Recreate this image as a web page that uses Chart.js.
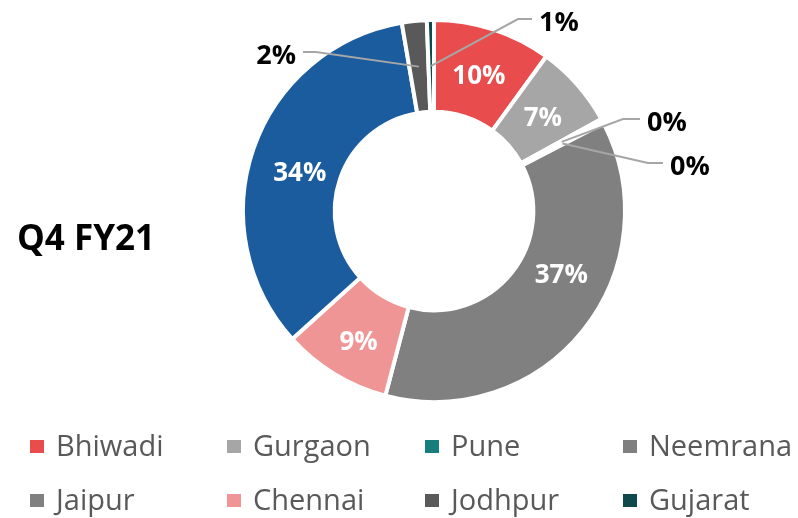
<!DOCTYPE html>
<html lang="en">
<head>
  <meta charset="UTF-8" />
  <title>Q4 FY21</title>
  <script src="https://cdn.jsdelivr.net/npm/chart.js"></script>
  <style>
    body { margin: 0; background: #fff; }
    canvas { display: block; }
  </style>
</head>
<body>
  <canvas id="pie" width="798" height="518"></canvas>

  <script>
    // plant names, in the order the slices run clockwise from 12 o'clock
    const plants = ["Bhiwadi", "Gurgaon", "Pune", "Neemrana", "Jaipur", "Chennai", "Others", "Jodhpur", "Gujarat"];
    const shares = [10, 7, 0.2, 0.2, 36.7, 9.2, 34, 2.1, 0.6];
    const colours = ["#E84C4C", "#A6A6A6", "#177E7E", "#7F7F7F", "#808080", "#EF9595", "#1B5C9E", "#595959", "#0E4A4A"];
    // the blue slice has no entry in the legend
    const legendPlants = ["Bhiwadi", "Gurgaon", "Pune", "Neemrana", "Jaipur", "Chennai", "Jodhpur", "Gujarat"];
    const title = "Q4 FY21";

    const total = shares.reduce((a, b) => a + b, 0);
    const pct = v => Math.round(v / total * 100) + "%";

    // small slices get their label outside, on a leader line (offsets from centre)
    const callouts = {
      2: { elbow: [189, -92], end: [206, -92], align: "left" },
      3: { elbow: [214, -48], end: [229, -48], align: "left" },
      7: { elbow: [-118, -159], end: [-131, -159], align: "right" },
      8: { elbow: [84, -192], end: [98, -192], align: "left" }
    };
    // small moves for labels that do not sit on the ring's middle
    const nudges = { 4: [14, -30], 5: [0, 4], 6: [3, 6] };

    const labelPlugin = {
      id: "sliceLabels",
      afterDatasetsDraw(chart) {
        const ctx = chart.ctx;
        const arcs = chart.getDatasetMeta(0).data;
        ctx.save();
        ctx.textBaseline = "middle";
        arcs.forEach((arc, i) => {
          const { x, y, startAngle, endAngle, innerRadius, outerRadius } = arc.getProps(["x", "y", "startAngle", "endAngle", "innerRadius", "outerRadius"], true);
          const mid = (startAngle + endAngle) / 2;
          const r = (innerRadius + outerRadius) / 2;
          const px = x + Math.cos(mid) * r;
          const py = y + Math.sin(mid) * r;
          const text = pct(shares[i]);
          const c = callouts[i];
          if (c) {
            ctx.strokeStyle = "#A6A6A6";
            ctx.lineWidth = 2;
            ctx.beginPath();
            ctx.moveTo(px, py);
            ctx.lineTo(x + c.elbow[0], y + c.elbow[1]);
            ctx.lineTo(x + c.end[0], y + c.end[1]);
            ctx.stroke();
            ctx.fillStyle = "#000";
            ctx.font = "bold 27px 'Open Sans'";
            ctx.textAlign = c.align;
            const gap = c.align === "left" ? 7 : -7;
            ctx.fillText(text, x + c.end[0] + gap, y + c.end[1] + 4);
          } else {
            const n = nudges[i] || [0, 0];
            ctx.fillStyle = "#fff";
            ctx.font = "bold 26px 'Open Sans'";
            ctx.textAlign = "center";
            ctx.fillText(text, px + n[0], py + n[1] + 4);
          }
        });
        ctx.restore();
      }
    };

    const legendPlugin = {
      id: "gridLegend",
      afterDraw(chart) {
        const ctx = chart.ctx;
        const colX = [30, 227, 425, 623];
        const rowY = [446, 500];
        ctx.save();
        ctx.textBaseline = "middle";
        ctx.textAlign = "left";
        ctx.font = "29px 'Open Sans'";
        legendPlants.forEach((name, k) => {
          const i = plants.indexOf(name);
          const lx = colX[k % 4];
          const ly = rowY[Math.floor(k / 4)];
          ctx.fillStyle = colours[i];
          ctx.fillRect(lx, ly - 6, 14, 13);
          ctx.fillStyle = "#595959";
          ctx.fillText(name, lx + 26, ly + 2);
        });
        // title on the left
        ctx.fillStyle = "#000";
        ctx.font = "bold 35px 'Open Sans'";
        ctx.fillText(title, 17, 240);
        ctx.restore();
      }
    };

    new Chart(document.getElementById("pie").getContext("2d"), {
      type: "doughnut",
      data: {
        labels: plants,
        datasets: [{
          data: shares,
          backgroundColor: colours,
          borderColor: "#fff",
          borderWidth: 4
        }]
      },
      options: {
        responsive: false,
        animation: false,
        cutout: "52%",
        layout: { padding: { left: 241, right: 171, top: 18, bottom: 114 } },
        plugins: {
          legend: { display: false },
          tooltip: { enabled: false }
        }
      },
      plugins: [labelPlugin, legendPlugin]
    });
  </script>
</body>
</html>
